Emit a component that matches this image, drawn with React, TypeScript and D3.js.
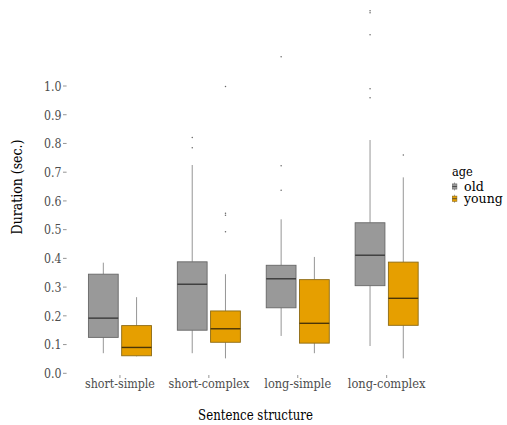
import React from "react";
import * as d3 from "d3";

const categories = ["short-simple", "short-complex", "long-simple", "long-complex"];
const groups = ["old", "young"];
const groupColors = ["#999999", "#E69F00"];
const yTicks = [0, 0.1, 0.2, 0.3, 0.4, 0.5, 0.6, 0.7, 0.8, 0.9, 1.0];

// per category: [whiskerLow, q1, median, q3, whiskerHigh]
const oldStats = [
  [0.07, 0.125, 0.192, 0.345, 0.385],
  [0.07, 0.15, 0.31, 0.388, 0.725],
  [0.13, 0.228, 0.329, 0.376, 0.536],
  [0.095, 0.305, 0.411, 0.524, 0.812],
];
const youngStats = [
  [0.059, 0.061, 0.09, 0.166, 0.265],
  [0.052, 0.108, 0.155, 0.217, 0.345],
  [0.07, 0.105, 0.174, 0.326, 0.405],
  [0.052, 0.167, 0.261, 0.387, 0.682],
];
const oldOutliers = [
  [],
  [0.821, 0.785],
  [0.722, 0.637, 1.102],
  [1.262, 1.255, 1.178, 0.99, 0.959],
];
const youngOutliers = [
  [],
  [0.998, 0.557, 0.55, 0.493],
  [],
  [0.76],
];

const W = 507;
const H = 425;
const FONT = "'DejaVu Serif', 'Liberation Serif', 'Noto Serif', serif";

// Times-like advance widths (per em) used to size the serif text footprint
const TIMES: Record<string, number> = {
  a: 0.444, b: 0.5, c: 0.444, d: 0.5, e: 0.444, g: 0.5, h: 0.5, i: 0.278, l: 0.278,
  m: 0.778, n: 0.5, o: 0.5, p: 0.5, r: 0.333, s: 0.389, t: 0.278, u: 0.5, x: 0.5, y: 0.5,
  S: 0.556, D: 0.722, "-": 0.333, ".": 0.25, "(": 0.333, ")": 0.333, " ": 0.25,
};
function timesWidth(str: string, size: number) {
  let w = 0;
  for (const ch of str) w += /[0-9]/.test(ch) ? 0.5 : TIMES[ch] ?? 0.5;
  return w * size;
}

type TProps = {
  x?: number;
  y?: number;
  size: number;
  ref14: number;
  anchor?: "start" | "middle" | "end";
  fill?: string;
  dy?: string;
  transform?: string;
  children: string;
};
function SerifText({ x, y, size, ref14, anchor = "start", fill = "#000", dy, transform, children }: TProps) {
  return (
    <text
      x={x}
      y={y}
      dy={dy}
      transform={transform}
      textAnchor={anchor}
      fontSize={size}
      fill={fill}
      textLength={timesWidth(children, ref14)}
      lengthAdjust="spacingAndGlyphs"
      style={{ fontFamily: FONT }}
    >
      {children}
    </text>
  );
}

export default function App() {
  const x = d3.scalePoint<string>().domain(categories).range([66.6, 440]).padding(0.6);
  const y = d3.scaleLinear().domain([0, 1]).range([373.3, 86.0]);
  const step = x.step();
  const boxW = step * 0.335;
  const offset = step * 0.187;

  const statsByGroup = [oldStats, youngStats];
  const outByGroup = [oldOutliers, youngOutliers];

  return (
    <svg
      width={W}
      height={H}
      style={{ position: "absolute", left: 0, top: 0, background: "#fff", fontFamily: FONT }}
    >
      {/* y axis ticks */}
      {yTicks.map((t) => (
        <g key={"yt" + t}>
          <line x1={63} x2={66.6} y1={y(t)} y2={y(t)} stroke="#4d4d4d" strokeWidth={0.6} />
          <SerifText x={61.5} y={y(t)} dy="0.36em" anchor="end" size={13.4} ref14={14} fill="#4d4d4d">
            {t.toFixed(1)}
          </SerifText>
        </g>
      ))}
      {/* x axis ticks */}
      {categories.map((c) => (
        <g key={"xt" + c}>
          <line x1={x(c)} x2={x(c)} y1={375} y2={378} stroke="#4d4d4d" strokeWidth={0.6} />
          <SerifText x={x(c)} y={387.5} anchor="middle" size={13.4} ref14={14} fill="#4d4d4d">
            {c}
          </SerifText>
        </g>
      ))}
      {/* boxes */}
      {groups.map((g, gi) =>
        categories.map((c, ci) => {
          const s = statsByGroup[gi][ci];
          const cx = (x(c) as number) + (gi === 0 ? -offset : offset);
          return (
            <g key={g + c}>
              <line x1={cx} x2={cx} y1={y(s[0])} y2={y(s[1])} stroke="#8a8a8a" strokeWidth={0.9} />
              <line x1={cx} x2={cx} y1={y(s[3])} y2={y(s[4])} stroke="#8a8a8a" strokeWidth={0.9} />
              <rect
                x={cx - boxW / 2}
                y={y(s[3])}
                width={boxW}
                height={y(s[1]) - y(s[3])}
                fill={groupColors[gi]}
                stroke={gi === 0 ? "#676767" : "#8c6a14"}
                strokeWidth={0.9}
              />
              <line
                x1={cx - boxW / 2}
                x2={cx + boxW / 2}
                y1={y(s[2])}
                y2={y(s[2])}
                stroke={gi === 0 ? "#3a3a3a" : "#4a3508"}
                strokeWidth={1.4}
              />
              {outByGroup[gi][ci].map((o, oi) => (
                <circle key={oi} cx={cx} cy={y(o)} r={0.75} fill="#666" />
              ))}
            </g>
          );
        })
      )}
      {/* axis titles */}
      <SerifText x={255.5} y={419.5} anchor="middle" size={15.2} ref14={15.6}>
        Sentence structure
      </SerifText>
      <SerifText transform="translate(21.5, 187) rotate(-90)" anchor="middle" size={15.2} ref14={15.8}>
        Duration (sec.)
      </SerifText>
      {/* legend */}
      <SerifText x={452} y={176} size={13.8} ref14={15}>
        age
      </SerifText>
      {groups.map((g, gi) => {
        const ky = 186.5 + gi * 12.2;
        return (
          <g key={"lg" + g}>
            <line x1={454.5} x2={454.5} y1={ky - 4} y2={ky + 4} stroke="#8a8a8a" strokeWidth={0.8} />
            <rect
              x={452.3}
              y={ky - 2.6}
              width={4.6}
              height={5.2}
              fill={groupColors[gi]}
              stroke={gi === 0 ? "#676767" : "#8c6a14"}
              strokeWidth={0.6}
            />
            <line x1={452.3} x2={456.9} y1={ky} y2={ky} stroke="#3a3a3a" strokeWidth={0.8} />
            <SerifText x={464} y={ky + 4.6} size={12.8} ref14={15.5}>
              {g}
            </SerifText>
          </g>
        );
      })}
    </svg>
  );
}
